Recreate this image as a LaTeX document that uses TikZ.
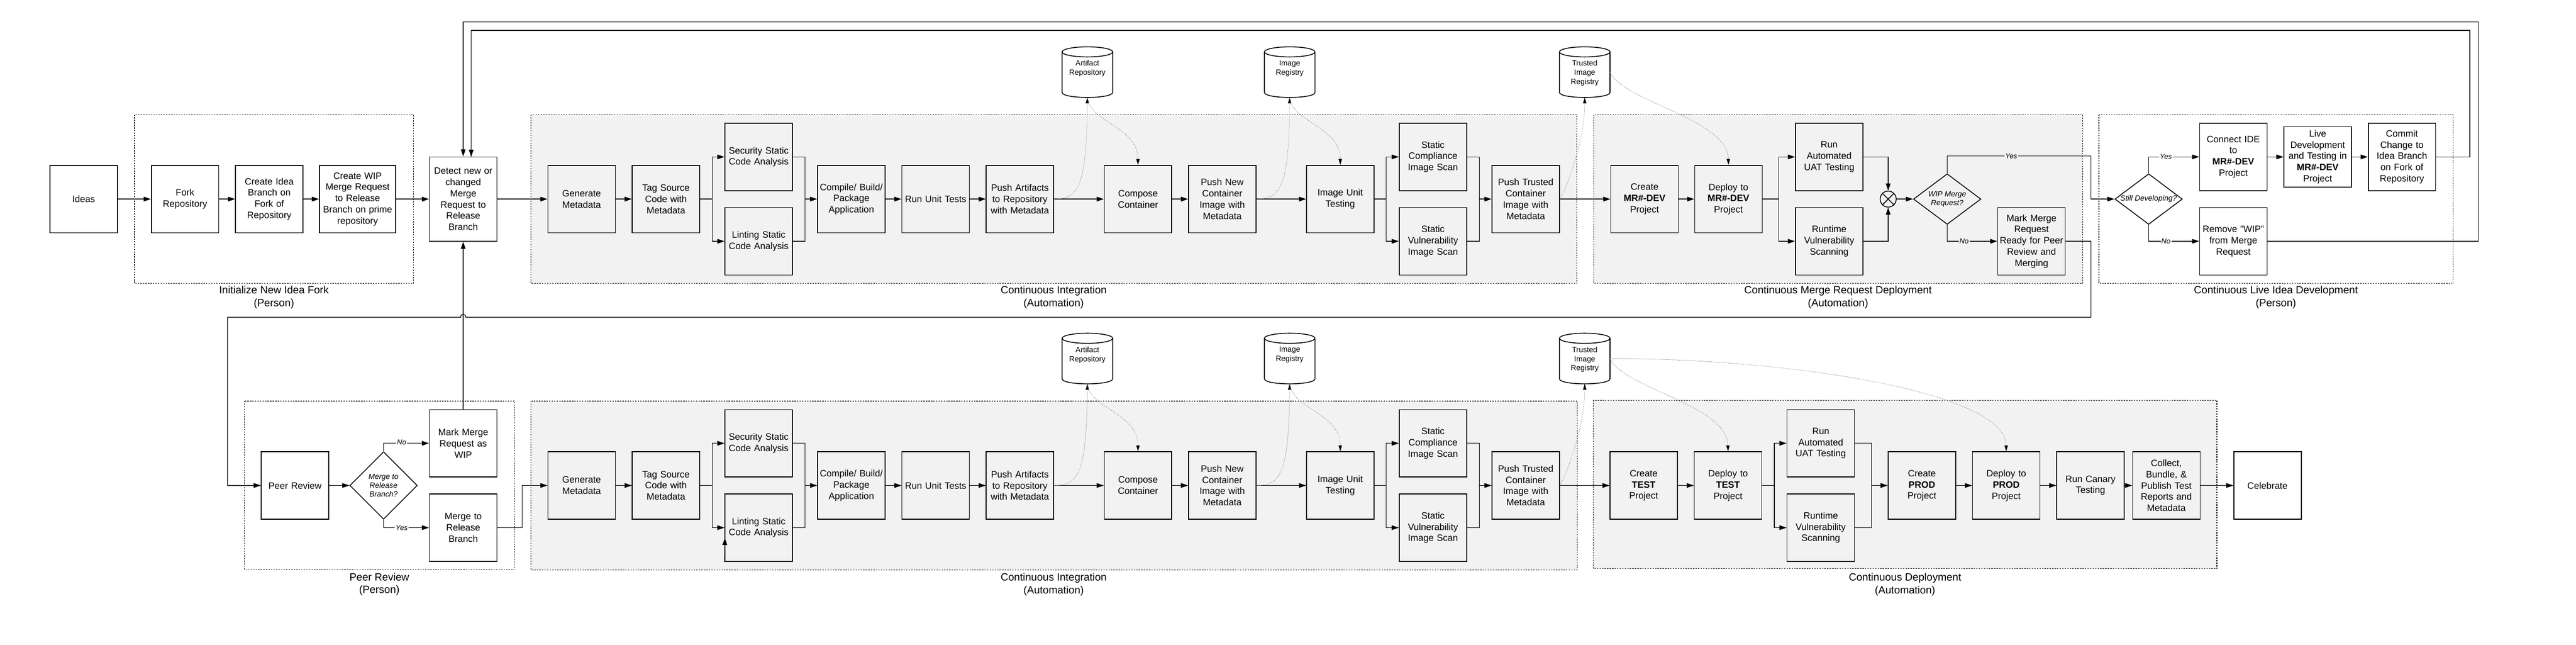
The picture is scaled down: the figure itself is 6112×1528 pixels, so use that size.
\documentclass[tikz,border=0pt]{standalone}
\usepackage{fontspec}
\setmainfont{Liberation Sans}
\usetikzlibrary{arrows.meta,shapes.geometric,calc}
\definecolor{bgauto}{HTML}{F2F2F2}
\definecolor{dotgray}{HTML}{8C8C8C}
\newcommand{\cylshape}[1]{%
  \draw[line width=1pt, fill=white] ($(#1.north west)+(0,12)$) -- ($(#1.south west)+(0,-12)$)
    .. controls ($(#1.south west)+(0,4)$) and ($(#1.south east)+(0,4)$) .. ($(#1.south east)+(0,-12)$)
    -- ($(#1.north east)+(0,12)$);
  \draw[line width=1pt, fill=white] ($(#1.north)+(0,12)$) ellipse [x radius=30pt, y radius=6pt];
}
\begin{document}
\begin{tikzpicture}[x=0.5pt,y=-0.5pt,
  every node/.style={font=\fontsize{11}{13.3}\selectfont},
  box/.style={draw, line width=1pt, minimum width=80pt, minimum height=80pt, text width=78pt, align=center, inner sep=1pt},
  cylnode/.style={minimum width=60pt, minimum height=60pt, inner sep=0pt, outer sep=0pt},
  cyltext/.style={font=\fontsize{9}{10.8}\selectfont, align=center, inner sep=0pt, anchor=north},
  dia/.style={draw, shape=diamond, line width=1pt, inner sep=0pt},
  ditext/.style={font=\fontsize{9}{10.5}\selectfont\itshape, align=center, inner sep=0pt},
  yn/.style={font=\fontsize{8.5}{10}\selectfont\itshape, inner sep=1pt},
  lbl/.style={font=\fontsize{12.5}{15}\selectfont, align=center},
  cont/.style={draw, line width=0.7pt, dash pattern=on 1.5pt off 1.5pt},
  autocont/.style={cont, fill=bgauto},
  conn/.style={line width=0.85pt},
  arr/.style={conn, -{Triangle[length=8.5pt,width=5.5pt]}},
  dotarr/.style={draw=dotgray, line width=0.5pt, dash pattern=on 1pt off 1pt, -{Triangle[length=7pt,width=4pt,color=black]}}
]
\useasboundingbox (0,0) rectangle (6112,1528);

% ---------- containers ----------
\draw[cont] (319,272) rectangle (981,672);
\draw[autocont] (1260,272) rectangle (3741,672);
\draw[autocont] (3781,272) rectangle (4941,672);
\draw[cont] (4980,272) rectangle (5820,672);
\draw[cont] (580,951) rectangle (1221,1350);
\draw[autocont] (1260,951) rectangle (3742,1351);
\draw[autocont] (3780,949) rectangle (5260,1348);

\node[lbl] (lblinit) at (650,705) {Initialize New Idea Fork\\(Person)};
\node[lbl] (lblci) at (2500,705) {Continuous Integration\\(Automation)};
\node[lbl] (lblcmrd) at (4361,705) {Continuous Merge Request Deployment\\(Automation)};
\node[lbl] (lblclid) at (5400,705) {Continuous Live Idea Development\\(Person)};
\node[lbl] (lblpr) at (900,1385) {Peer Review\\(Person)};
\node[lbl] (lblci2) at (2500,1386) {Continuous Integration\\(Automation)};
\node[lbl] (lblcd) at (4520,1386) {Continuous Deployment\\(Automation)};

% ---------- top row ----------
\node[box] (ideas) at (198.5,472) {Ideas};
\node[box] (fork) at (439,472) {Fork\\Repository};
\node[box] (cib) at (639,472) {Create Idea\\Branch on\\Fork of\\Repository};
\node[box, minimum width=90.5pt, text width=86pt] (cwip) at (848.5,472) {Create WIP\\Merge Request\\to Release\\Branch on prime\\repository};
\node[box, minimum height=100pt] (detect) at (1099,472) {Detect new or\\changed\\Merge\\Request to\\Release\\Branch};
\node[box] (gen) at (1380,472) {Generate\\Metadata};
\node[box] (tag) at (1580,472) {Tag Source\\Code with\\Metadata};
\node[box] (sec) at (1800,372) {Security Static\\Code Analysis};
\node[box] (lint) at (1800,572) {Linting Static\\Code Analysis};
\node[box] (comp) at (2020,472) {Compile/ Build/\\Package\\Application};
\node[box] (rut) at (2220,472) {Run Unit Tests};
\node[box] (pa) at (2420,472) {Push Artifacts\\to Repository\\with Metadata};
\node[box] (cc) at (2700,472) {Compose\\Container};
\node[box] (pn) at (2900,472) {Push New\\Container\\Image with\\Metadata};
\node[box] (iu) at (3180,472) {Image Unit\\Testing};
\node[box] (scs) at (3400,372) {Static\\Compliance\\Image Scan};
\node[box] (svs) at (3400,572) {Static\\Vulnerability\\Image Scan};
\node[box] (pt) at (3620,472) {Push Trusted\\Container\\Image with\\Metadata};
\node[box] (cmr) at (3902,472) {Create\\\textbf{MR\#-DEV}\\Project};
\node[box] (dmr) at (4101,472) {Deploy to\\\textbf{MR\#-DEV}\\Project};
\node[box] (uat) at (4340,372) {Run\\Automated\\UAT Testing};
\node[box] (rvs) at (4340,572) {Runtime\\Vulnerability\\Scanning};
\node[draw, shape=circle, line width=1pt, minimum size=19pt, inner sep=0pt] (ox) at (4480,472) {};
\draw[line width=1pt] (ox.north west) -- (ox.south east) (ox.north east) -- (ox.south west);
\node[dia, minimum width=80pt, minimum height=60pt] (wip) at (4620,472) {};
\node[ditext] (wipt) at (wip) {WIP Merge\\Request?};
\node[box] (mmr) at (4820,572) {Mark Merge\\Request\\Ready for Peer\\Review and\\Merging};
\node[dia, minimum width=80pt, minimum height=60pt] (still) at (5098,472) {};
\node[ditext] (stillt) at (still) {Still Developing?};
\node[box] (cide) at (5299,372) {Connect IDE\\to\\\textbf{MR\#-DEV}\\Project};
\node[box, minimum height=72pt] (live) at (5499,372) {Live\\Development\\and Testing in\\\textbf{MR\#-DEV}\\Project};
\node[box] (commit) at (5699,372) {Commit\\Change to\\Idea Branch\\on Fork of\\Repository};
\node[box] (rem) at (5299,572) {Remove "WIP"\\from Merge\\Request};

\node[cylnode] (ar) at (2580,171) {};
\node[cylnode] (ir) at (3060,171) {};
\node[cylnode] (tr) at (3760,171) {};
\cylshape{ar}\cylshape{ir}\cylshape{tr}
\node[cyltext] (art) at (2580,143) {Artifact\\Repository};
\node[cyltext] (irt) at (3060,143) {Image\\Registry};
\node[cyltext] (trt) at (3760,143) {Trusted\\Image\\Registry};

% ---------- bottom row ----------
\node[box] (pr) at (700,1151) {Peer Review};
\node[dia, minimum width=80pt, minimum height=80pt] (mrd) at (910,1151) {};
\node[ditext] (mrdt) at (mrd) {Merge to\\Release\\Branch?};
\node[box] (mwip) at (1099,1051) {Mark Merge\\Request as\\WIP};
\node[box] (mrel) at (1099,1251) {Merge to\\Release\\Branch};
\node[box] (gen2) at (1380,1151) {Generate\\Metadata};
\node[box] (tag2) at (1580,1151) {Tag Source\\Code with\\Metadata};
\node[box] (sec2) at (1800,1051) {Security Static\\Code Analysis};
\node[box] (lint2) at (1800,1251) {Linting Static\\Code Analysis};
\node[box] (comp2) at (2020,1151) {Compile/ Build/\\Package\\Application};
\node[box] (rut2) at (2220,1151) {Run Unit Tests};
\node[box] (pa2) at (2420,1151) {Push Artifacts\\to Repository\\with Metadata};
\node[box] (cc2) at (2700,1151) {Compose\\Container};
\node[box] (pn2) at (2900,1151) {Push New\\Container\\Image with\\Metadata};
\node[box] (iu2) at (3180,1151) {Image Unit\\Testing};
\node[box] (scs2) at (3400,1051) {Static\\Compliance\\Image Scan};
\node[box] (svs2) at (3400,1251) {Static\\Vulnerability\\Image Scan};
\node[box] (pt2) at (3620,1151) {Push Trusted\\Container\\Image with\\Metadata};
\node[box] (ct) at (3900,1151) {Create\\\textbf{TEST}\\Project};
\node[box] (dt) at (4100,1151) {Deploy to\\\textbf{TEST}\\Project};
\node[box] (uat2) at (4320,1051) {Run\\Automated\\UAT Testing};
\node[box] (rvs2) at (4320,1251) {Runtime\\Vulnerability\\Scanning};
\node[box] (cp) at (4560,1151) {Create\\\textbf{PROD}\\Project};
\node[box] (dp) at (4760,1151) {Deploy to\\\textbf{PROD}\\Project};
\node[box] (canary) at (4960,1151) {Run Canary\\Testing};
\node[box] (collect) at (5140,1151) {Collect,\\Bundle, \&\\Publish Test\\Reports and\\Metadata};
\node[box] (celebrate) at (5380,1151) {Celebrate};

\node[cylnode] (ar2) at (2580,850) {};
\node[cylnode] (ir2) at (3060,850) {};
\node[cylnode] (tr2) at (3760,850) {};
\cylshape{ar2}\cylshape{ir2}\cylshape{tr2}
\node[cyltext] (art2) at (2580,822) {Artifact\\Repository};
\node[cyltext] (irt2) at (3060,822) {Image\\Registry};
\node[cyltext] (trt2) at (3760,822) {Trusted\\Image\\Registry};

% ---------- coordinates ----------
\coordinate (jtag) at (1690,472);
\coordinate (jsec) at (1910,472);
\coordinate (jiu) at (3289,472);
\coordinate (jscs) at (3510,472);
\coordinate (jdmr) at (4220,472);
\coordinate (wy) at (4961,370);
\coordinate (pr1) at (4961,752);
\coordinate (hopR) at (1105,752);
\coordinate (hopL) at (1093,752);
\coordinate (pr2) at (540,752);
\coordinate (cl1) at (5860,72);
\coordinate (dtop2) at (1118,372);
\coordinate (cr1) at (5880,52);
\coordinate (jm) at (1239,1151);
\coordinate (jtag2) at (1690,1151);
\coordinate (jsec2) at (1910,1151);
\coordinate (jiu2) at (3289,1151);
\coordinate (jscs2) at (3510,1151);
\coordinate (jdt) at (4210,1151);
\coordinate (juat2) at (4440,1151);
\coordinate (stray) at (1720,1275);

% ---------- top connectors ----------
\draw[arr] (ideas.east) -- (fork.west);
\draw[arr] (fork.east) -- (cib.west);
\draw[arr] (cib.east) -- (cwip.west);
\draw[arr] (cwip.east) -- (detect.west);
\draw[arr] (detect.east) -- (gen.west);
\draw[arr] (gen.east) -- (tag.west);
\draw[conn] (tag.east) -- (jtag);
\draw[arr] (jtag) |- (sec.west);
\draw[arr] (jtag) |- (lint.west);
\draw[conn] (sec.east) -| (jsec);
\draw[conn] (lint.east) -| (jsec);
\draw[arr] (jsec) -- (comp.west);
\draw[arr] (comp.east) -- (rut.west);
\draw[arr] (rut.east) -- (pa.west);
\draw[arr] (pa.east) -- (cc.west);
\draw[arr] (cc.east) -- (pn.west);
\draw[arr] (pn.east) -- (iu.west);
\draw[conn] (iu.east) -- (jiu);
\draw[arr] (jiu) |- (scs.west);
\draw[arr] (jiu) |- (svs.west);
\draw[conn] (scs.east) -| (jscs);
\draw[conn] (svs.east) -| (jscs);
\draw[arr] (jscs) -- (pt.west);
\draw[arr] (pt.east) -- (cmr.west);
\draw[arr] (cmr.east) -- (dmr.west);
\draw[conn] (dmr.east) -- (jdmr);
\draw[arr] (jdmr) |- (uat.west);
\draw[arr] (jdmr) |- (rvs.west);
\draw[arr] (uat.east) -| (ox.north);
\draw[arr] (rvs.east) -| (ox.south);
\draw[arr] (ox.east) -- (wip.west);
\draw[arr] (wip.north) |- (wy) |- (still.west);
\draw[arr] (wip.south) |- (mmr.west);
\draw[arr] (mmr.east) -| (pr1) -- (hopR) .. controls (1105,743) and (1093,743) .. (hopL) -- (pr2) |- (pr.west);
\draw[arr] (still.north) |- (cide.west);
\draw[arr] (still.south) |- (rem.west);
\draw[arr] (cide.east) -- (live.west);
\draw[arr] (live.east) -- (commit.west);
\draw[arr] (commit.east) -| (cl1) -| (dtop2);
\draw[arr] (rem.east) -| (cr1) -| (detect.north);
\draw[arr] (mwip.north) -- (detect.south);

% dotted repository links (top)
\draw[dotarr] (pa.east) .. controls (2560,472) and (2578,440) .. (ar.south);
\draw[dotarr] (ar.south) .. controls (2585,290) and (2700,300) .. (cc.north);
\draw[dotarr] (pn.east) .. controls (3040,472) and (3058,440) .. (ir.south);
\draw[dotarr] (ir.south) .. controls (3065,290) and (3180,300) .. (iu.north);
\draw[dotarr] (pt.east) .. controls (3720,440) and (3760,330) .. (tr.south);
\draw[dotarr] (tr.east) .. controls (3850,241) and (4099,281) .. (dmr.north);

% ---------- bottom connectors ----------
\draw[arr] (pr.east) -- (mrd.west);
\draw[arr] (mrd.north) |- (mwip.west);
\draw[arr] (mrd.south) |- (mrel.west);
\draw[arr] (mrel.east) -| (jm) -- (gen2.west);
\draw[arr] (gen2.east) -- (tag2.west);
\draw[conn] (tag2.east) -- (jtag2);
\draw[arr] (jtag2) |- (sec2.west);
\draw[arr] (jtag2) |- (lint2.west);
\draw[arr] (lint2.south west) -- (stray);
\draw[conn] (sec2.east) -| (jsec2);
\draw[conn] (lint2.east) -| (jsec2);
\draw[arr] (jsec2) -- (comp2.west);
\draw[arr] (comp2.east) -- (rut2.west);
\draw[arr] (rut2.east) -- (pa2.west);
\draw[arr] (pa2.east) -- (cc2.west);
\draw[arr] (cc2.east) -- (pn2.west);
\draw[arr] (pn2.east) -- (iu2.west);
\draw[conn] (iu2.east) -- (jiu2);
\draw[arr] (jiu2) |- (scs2.west);
\draw[arr] (jiu2) |- (svs2.west);
\draw[conn] (scs2.east) -| (jscs2);
\draw[conn] (svs2.east) -| (jscs2);
\draw[arr] (jscs2) -- (pt2.west);
\draw[arr] (pt2.east) -- (ct.west);
\draw[arr] (ct.east) -- (dt.west);
\draw[conn] (dt.east) -- (jdt);
\draw[arr] (jdt) |- (uat2.west);
\draw[arr] (jdt) |- (rvs2.west);
\draw[conn] (uat2.east) -| (juat2);
\draw[conn] (rvs2.east) -| (juat2);
\draw[arr] (juat2) -- (cp.west);
\draw[arr] (cp.east) -- (dp.west);
\draw[arr] (dp.east) -- (canary.west);
\draw[arr] (canary.east) -- (collect.west);
\draw[arr] (collect.east) -- (celebrate.west);

% dotted repository links (bottom)
\draw[dotarr] (pa2.east) .. controls (2560,1151) and (2578,1119) .. (ar2.south);
\draw[dotarr] (ar2.south) .. controls (2585,969) and (2700,979) .. (cc2.north);
\draw[dotarr] (pn2.east) .. controls (3040,1151) and (3058,1119) .. (ir2.south);
\draw[dotarr] (ir2.south) .. controls (3065,969) and (3180,979) .. (iu2.north);
\draw[dotarr] (pt2.east) .. controls (3720,1119) and (3760,1009) .. (tr2.south);
\draw[dotarr] (tr2.east) .. controls (3850,920) and (4098,960) .. (dt.north);
\draw[dotarr] (tr2.east) .. controls (4250,850) and (4760,930) .. (dp.north);

% ---------- yes/no labels ----------
\node[yn, fill=bgauto] (wyes) at (4772,370) {Yes};
\node[yn, fill=bgauto] (wno) at (4660,572) {No};
\node[yn, fill=white] (syes) at (5139,371) {Yes};
\node[yn, fill=white] (sno) at (5139,572) {No};
\node[yn, fill=white] (pno) at (953,1049) {No};
\node[yn, fill=white] (pyes) at (953,1251) {Yes};
\end{tikzpicture}
\end{document}
